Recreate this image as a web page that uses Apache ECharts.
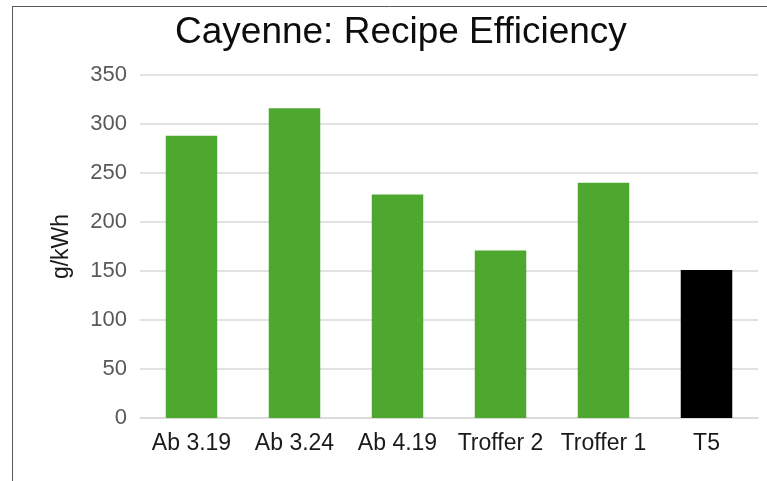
<!DOCTYPE html>
<html>
<head>
<meta charset="utf-8">
<script src="https://cdn.jsdelivr.net/npm/echarts@6/dist/echarts.min.js"></script>
<style>
html,body{margin:0;padding:0;background:#fff;}
#chart{width:767px;height:481px;}
</style>
</head>
<body>
<div id="chart"></div>
<script>
const titleText = "Cayenne: Recipe Efficiency";
const categories = ["Ab 3.19", "Ab 3.24", "Ab 4.19", "Troffer 2", "Troffer 1", "T5"];
const values = [288, 316, 228, 171, 240, 151];
const barColors = ["#4EA72E", "#4EA72E", "#4EA72E", "#4EA72E", "#4EA72E", "#000000"];
const yName = "g/kWh";
const yMin = 0, yMax = 350, yStep = 50;

const chart = echarts.init(document.getElementById('chart'), null, {renderer: 'canvas'});
const font = "'Liberation Sans', Arial, sans-serif";
chart.setOption({
  animation: false,
  backgroundColor: '#ffffff',
  title: {
    text: titleText,
    left: 170,
    top: 9,
    textStyle: {fontFamily: font, fontSize: 37, fontWeight: 'normal', color: '#0d0d0d'}
  },
  grid: {left: 140, right: 9, top: 75, bottom: 63},
  xAxis: {
    type: 'category',
    data: categories,
    axisLine: {show: true, lineStyle: {color: '#d9d9d9', width: 1.5}},
    axisTick: {show: false},
    axisLabel: {fontFamily: font, fontSize: 23, color: '#1a1a1a', margin: 14, interval: 0}
  },
  yAxis: {
    type: 'value',
    min: yMin, max: yMax, interval: yStep,
    name: yName,
    nameLocation: 'middle',
    nameRotate: 90,
    nameGap: 67,
    nameTextStyle: {fontFamily: font, fontSize: 23, color: '#1a1a1a'},
    axisLine: {show: false},
    axisTick: {show: false},
    axisLabel: {fontFamily: font, fontSize: 22, color: '#595959', margin: 13},
    splitLine: {lineStyle: {color: '#d9d9d9', width: 1.5}}
  },
  series: [{
    type: 'bar',
    data: values.map((v, i) => ({value: v, itemStyle: {color: barColors[i]}})),
    barWidth: '50%'
  }],
  graphic: [
    {type: 'line', shape: {x1: 12, y1: 6.5, x2: 767, y2: 6.5}, style: {stroke: '#595959', lineWidth: 1}},
    {type: 'line', shape: {x1: 12.5, y1: 6, x2: 12.5, y2: 481}, style: {stroke: '#595959', lineWidth: 1}}
  ]
});
</script>
</body>
</html>
